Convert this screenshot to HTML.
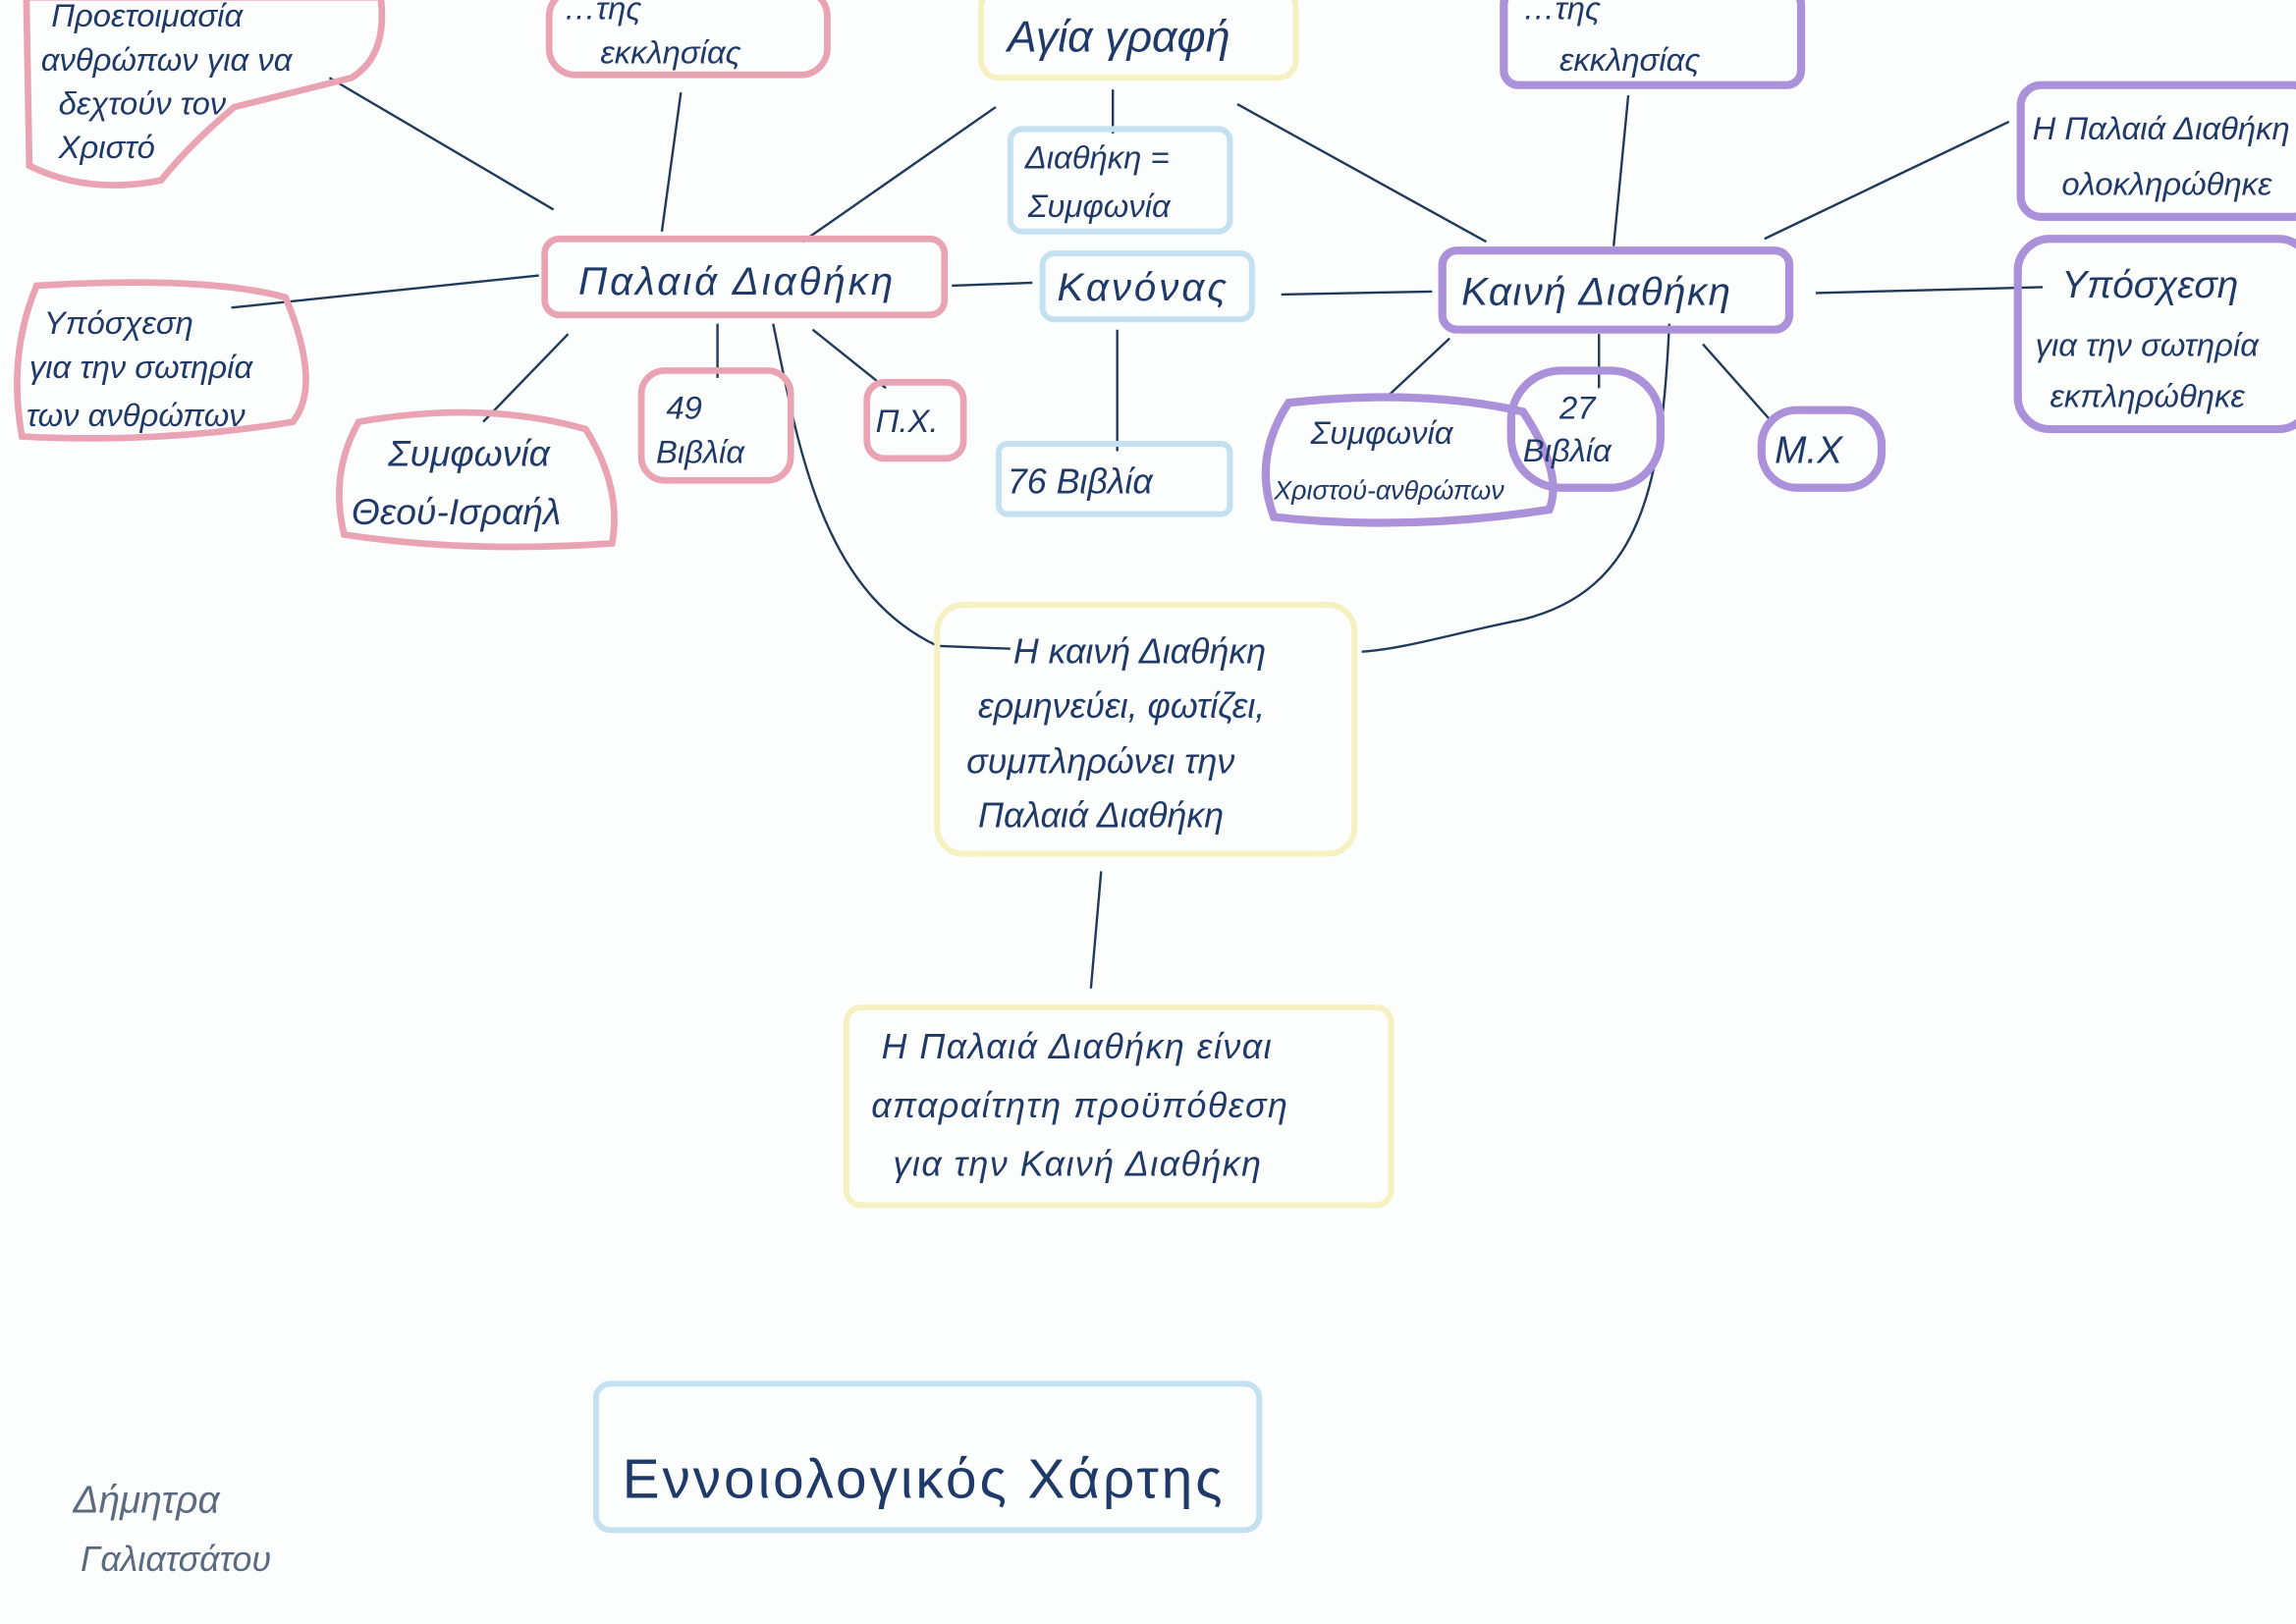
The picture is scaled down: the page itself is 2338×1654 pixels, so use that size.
<!DOCTYPE html>
<html><head><meta charset="utf-8">
<style>
html,body{margin:0;padding:0;background:#fcfdfd;}
svg{display:block;}
text{font-family:"Liberation Sans","DejaVu Sans",sans-serif;font-style:italic;fill:#1f3a68;}
.p{fill:none;stroke:#eaa3b3;stroke-width:4.5;}
.v{fill:none;stroke:#ab90da;stroke-width:5.5;}
.y{fill:none;stroke:#f6f1c0;stroke-width:4;}
.b{fill:none;stroke:#c4e1f1;stroke-width:4;}
.l{fill:none;stroke:#1f3a5a;stroke-width:1.6;}
</style></head>
<body>
<svg width="2338" height="1654" viewBox="0 0 1568 1103" xmlns="http://www.w3.org/2000/svg">
<rect width="1568" height="1103" fill="#fcfdfd"/>
<path class="l" d="M225 50 L378 140"/>
<path class="l" d="M465 60 L452 155"/>
<path class="l" d="M680 70 L548 162"/>
<path class="l" d="M760 58 L760 88"/>
<path class="l" d="M845 68 L1015 162"/>
<path class="l" d="M1112 62 L1102 165"/>
<path class="l" d="M1372 80 L1205 160"/>
<path class="l" d="M158 207 L368 185"/>
<path class="l" d="M650 192 L705 190"/>
<path class="l" d="M875 198 L978 196"/>
<path class="l" d="M1240 197 L1395 193"/>
<path class="l" d="M388 225 L330 285"/>
<path class="l" d="M490 218 L490 255"/>
<path class="l" d="M555 222 L605 262"/>
<path class="l" d="M763 222 L763 305"/>
<path class="l" d="M990 228 L945 270"/>
<path class="l" d="M1092 225 L1092 262"/>
<path class="l" d="M1163 232 L1210 285"/>
<path class="l" d="M528 218 C545 300 560 400 640 438 L690 440"/>
<path class="l" d="M1140 218 C1135 330 1120 400 1040 420 C990 430 960 440 930 442"/>
<path class="l" d="M752 592 L745 672"/>
<path class="p" d="M18 -5 L260 -5 Q265 35 240 50 Q200 60 160 70 Q130 95 110 120 Q60 130 20 110 Z"/>
<rect class="p" x="375" y="-10" width="190" height="58" rx="18"/>
<rect class="y" x="670" y="-10" width="215" height="60" rx="12"/>
<rect class="v" x="1027" y="-10" width="203" height="65" rx="10"/>
<rect class="v" x="1380" y="55" width="200" height="90" rx="14"/>
<rect class="b" x="690" y="85" width="150" height="70" rx="8"/>
<rect class="p" x="372" y="160" width="273" height="52" rx="10"/>
<rect class="b" x="712" y="170" width="143" height="45" rx="8"/>
<rect class="v" x="985" y="168" width="237" height="54" rx="10"/>
<path class="p" d="M25 192 Q140 185 195 200 Q220 260 200 285 Q110 300 15 295 Q5 240 25 192 Z"/>
<rect class="v" x="1378" y="160" width="200" height="130" rx="22"/>
<path class="p" d="M245 285 Q330 270 400 290 Q425 330 418 368 Q320 375 235 362 Q225 320 245 285 Z"/>
<rect class="p" x="438" y="250" width="102" height="75" rx="16"/>
<rect class="p" x="592" y="258" width="66" height="52" rx="12"/>
<rect class="b" x="682" y="300" width="158" height="48" rx="6"/>
<path class="v" d="M880 272 Q970 262 1040 278 Q1068 320 1058 345 Q960 360 870 350 Q855 310 880 272 Z"/>
<rect class="v" x="1032" y="250" width="102" height="80" rx="34"/>
<rect class="v" x="1203" y="277" width="82" height="53" rx="24"/>
<rect class="y" x="640" y="410" width="285" height="170" rx="18"/>
<rect class="y" x="578" y="685" width="372" height="135" rx="10"/>
<rect class="b" x="407" y="942" width="453" height="100" rx="10"/>
<g font-size="22">
<text x="35" y="15">Προετοιμασία</text>
<text x="28" y="45">ανθρώπων για να</text>
<text x="40" y="75">δεχτούν τον</text>
<text x="40" y="105">Χριστό</text>
<text x="385" y="10">…της</text>
<text x="410" y="40">εκκλησίας</text>
<text x="688" y="32" font-size="30">Αγία γραφή</text>
<text x="1040" y="10">…της</text>
<text x="1065" y="45">εκκλησίας</text>
<text x="1388" y="92">Η Παλαιά Διαθήκη</text>
<text x="1408" y="130">ολοκληρώθηκε</text>
<text x="700" y="112">Διαθήκη =</text>
<text x="702" y="145">Συμφωνία</text>
<text x="395" y="198" font-size="27" letter-spacing="2">Παλαιά Διαθήκη</text>
<text x="722" y="202" font-size="27" letter-spacing="2">Κανόνας</text>
<text x="998" y="205" font-size="27" letter-spacing="1">Καινή Διαθήκη</text>
<text x="30" y="225">Υπόσχεση</text>
<text x="20" y="255">για την σωτηρία</text>
<text x="18" y="288">των ανθρώπων</text>
<text x="1408" y="200" font-size="26">Υπόσχεση</text>
<text x="1390" y="240">για την σωτηρία</text>
<text x="1400" y="275">εκπληρώθηκε</text>
<text x="265" y="315" font-size="25">Συμφωνία</text>
<text x="240" y="355" font-size="25">Θεού-Ισραήλ</text>
<text x="455" y="283">49</text>
<text x="448" y="313">Βιβλία</text>
<text x="598" y="292">Π.Χ.</text>
<text x="688" y="334" font-size="24">76 Βιβλία</text>
<text x="895" y="300">Συμφωνία</text>
<text x="870" y="338" font-size="18">Χριστού-ανθρώπων</text>
<text x="1065" y="283">27</text>
<text x="1040" y="312">Βιβλία</text>
<text x="1212" y="313" font-size="26">Μ.Χ</text>
<text x="692" y="450" font-size="24">Η καινή Διαθήκη</text>
<text x="668" y="487" font-size="24">ερμηνεύει, φωτίζει,</text>
<text x="660" y="525" font-size="24">συμπληρώνει την</text>
<text x="668" y="562" font-size="24">Παλαιά Διαθήκη</text>
<text x="602" y="720" font-size="24" letter-spacing="1">Η Παλαιά Διαθήκη είναι</text>
<text x="595" y="760" font-size="24" letter-spacing="1">απαραίτητη προϋπόθεση</text>
<text x="610" y="800" font-size="24" letter-spacing="1">για την Καινή Διαθήκη</text>
<text x="425" y="1020" font-size="38" letter-spacing="2" style="font-style:normal">Εννοιολογικός  Χάρτης</text>
<text x="50" y="1030" font-size="26" style="fill:#5a6a80">Δήμητρα</text>
<text x="55" y="1070" font-size="24" style="fill:#5a6a80">Γαλιατσάτου</text>
</g>
</svg>
</body></html>
